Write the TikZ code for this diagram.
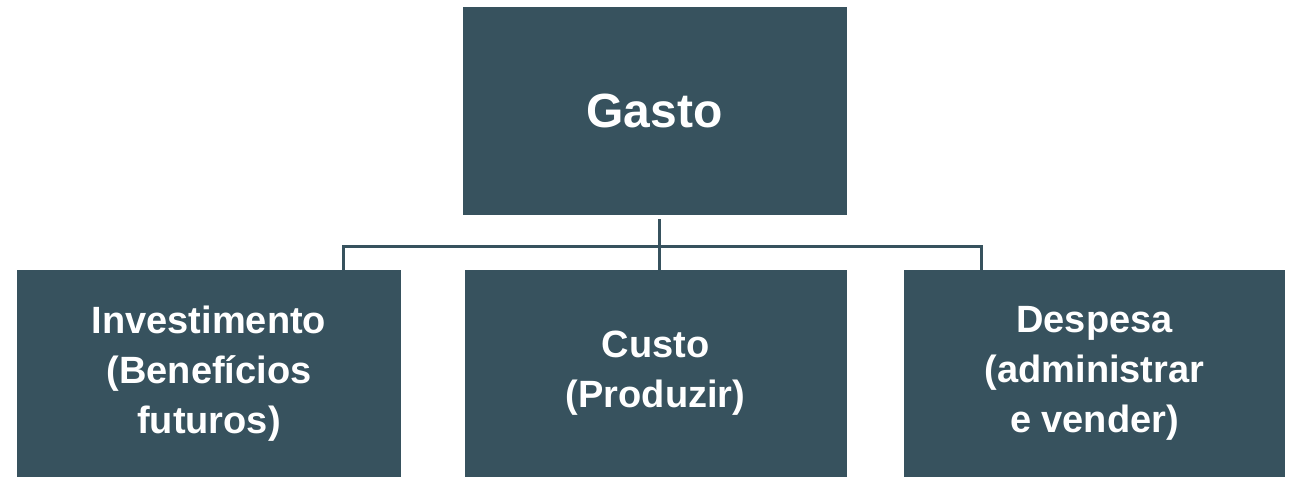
\documentclass[tikz,border=0pt]{standalone}
\usepackage{fontspec}
\setmainfont{Liberation Sans}
\definecolor{boxc}{HTML}{37525E}
\begin{document}
\begin{tikzpicture}[x=1pt,y=-1pt,
  blk/.style={fill=boxc,draw=none,inner sep=0pt,text=white,font=\bfseries\fontsize{38}{50}\selectfont,align=center},
  con/.style={draw=boxc,line width=3pt}]
\useasboundingbox (0,0) rectangle (1296,477);
\node[blk,minimum width=384pt,minimum height=208pt,font=\bfseries\fontsize{48}{56}\selectfont] (top) at (654.5,111) {Gasto};
\node[blk,minimum width=384pt,minimum height=207pt] (left) at (209,373.5) {Investimento\\(Benefícios\\futuros)};
\node[blk,minimum width=382pt,minimum height=207pt] (mid) at (655.5,373.5) {Custo\\(Produzir)};
\node[blk,minimum width=381pt,minimum height=207pt] (right) at (1094.5,373.5) {Despesa\\(administrar\\e vender)};
\coordinate (jn) at (659,246);
\draw[con] ([xshift=4.5pt,yshift=-4pt]top.south) -- ([xshift=3.5pt]mid.north);
\draw[con] ([xshift=134pt]left.north) |- (jn) -| ([xshift=-113.5pt]right.north);
\end{tikzpicture}
\end{document}
